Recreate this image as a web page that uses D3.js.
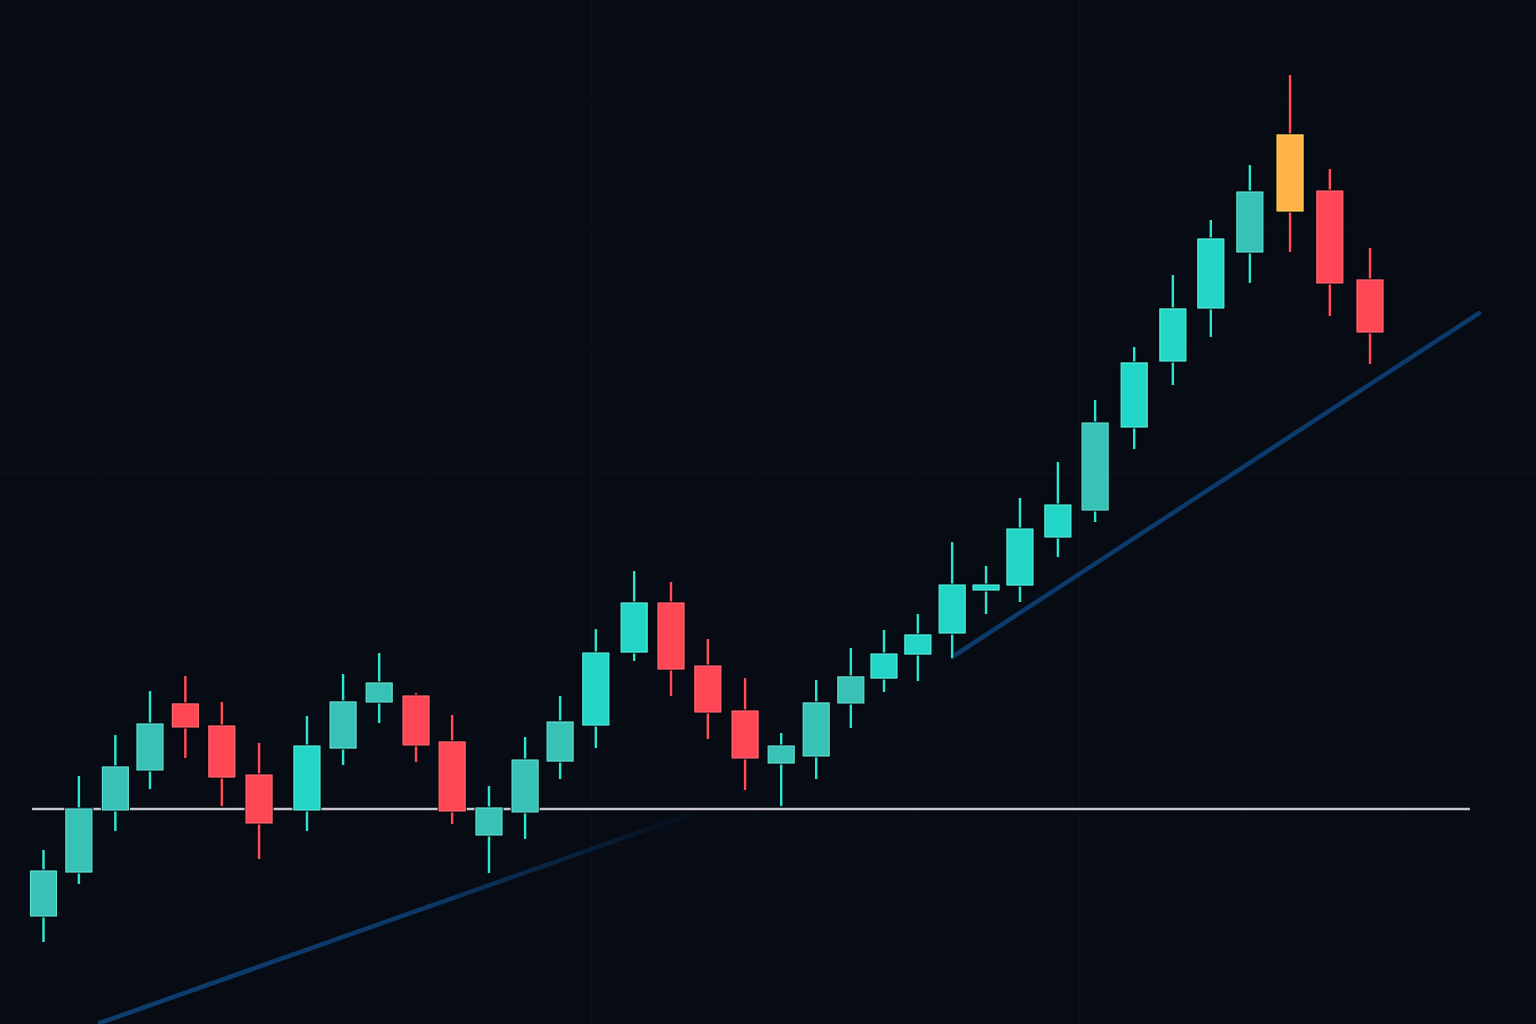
<!DOCTYPE HTML>
<html>

<head>
  <meta charset="utf-8">
  <title>candles</title>
  <script src="https://d3js.org/d3.v7.min.js"></script>
  <style>
    html, body { margin: 0; padding: 0; background: #060b14; overflow: hidden; }
    svg { display: block; }
  </style>
</head>

<body>
  <script>
    // session position of each candle (irregular spacing)
    const sessions = [0, 0.96, 1.95, 2.89, 3.85, 4.84, 5.85, 7.15, 8.13, 9.11,
      10.11, 11.09, 12.09, 13.07, 14.02, 14.99, 16.03, 17.03, 18.03, 19.04,
      20.02, 20.97, 21.91, 22.81, 23.73, 24.66, 25.58, 26.50, 27.53, 28.54,
      29.60, 30.65, 31.68, 32.74, 33.83, 34.91, 36];

    const open = [104.20, 107.75, 112.76, 115.99, 121.32, 119.54, 115.58, 112.76, 117.76, 121.48,
      121.96, 118.25, 110.74, 112.60, 116.71, 119.62, 125.51, 129.47, 124.38, 120.75,
      116.55, 117.12, 121.40, 123.41, 125.35, 127.05, 130.52, 130.92, 134.80, 136.98,
      143.68, 149.01, 153.29, 157.81, 161.12, 162.73, 155.55];
    const close = [107.83, 112.84, 116.23, 119.70, 119.46, 115.42, 111.71, 117.92, 121.48, 123.01,
      118.01, 112.68, 112.92, 116.79, 119.86, 125.43, 129.47, 124.14, 120.67, 116.96,
      117.92, 121.40, 123.50, 125.35, 126.89, 130.92, 130.92, 135.44, 137.38, 144.00,
      148.85, 153.21, 158.86, 162.65, 167.26, 155.31, 151.35];
    const high = [109.53, 115.50, 118.81, 122.36, 123.58, 121.48, 118.17, 120.35, 123.74, 125.43,
      122.20, 120.43, 114.69, 118.65, 121.96, 127.37, 132.05, 131.17, 126.56, 123.41,
      118.97, 123.25, 125.84, 127.29, 128.58, 134.39, 132.46, 137.95, 140.85, 145.86,
      150.14, 155.95, 160.39, 164.83, 172.10, 164.51, 158.13];
    const low = [102.10, 106.78, 111.06, 114.45, 116.96, 113.08, 108.80, 111.06, 116.39, 119.78,
      116.63, 111.63, 107.67, 110.42, 115.26, 117.76, 124.79, 121.96, 118.49, 114.37,
      113.08, 115.26, 119.38, 122.28, 123.17, 125.03, 128.58, 129.55, 133.18, 136.01,
      141.90, 147.07, 150.95, 155.31, 157.81, 152.64, 148.77];

    // candle drawn in the highlight colour (the top)
    const highlightIdx = [34];
    // rising candles drawn in the softer teal
    const mutedIdx = [0, 1, 2, 3, 8, 9, 12, 13, 14, 20, 21, 22, 29, 33];

    // horizontal support level
    const supportLevel = 112.84;
    const supportSpan = [-0.31, 38.71];

    // trend lines as [session, price] pairs
    const trendLow = [[1.53, 95.56], [17.63, 112.51]];
    const trendHigh = [[24.66, 125.11], [38.96, 152.88]];

    // grid ticks
    const priceTicks = [90, 100, 110, 120, 130, 140, 150, 160, 170, 180];
    const sessionTicks = [1.64, 6.06, 10.47, 14.88, 19.30, 23.71, 28.12, 32.53, 36.95];

    const W = 1536, H = 1024;

    const candles = sessions.map((s, i) => ({
      s: s, o: open[i], c: close[i], h: high[i], l: low[i],
      hi: highlightIdx.includes(i), muted: mutedIdx.includes(i)
    }));

    const x = d3.scaleLinear().domain([0, 36]).range([43.5, 1370]);
    const y = d3.scaleLinear().domain([100, 170]).range([968, 101]);

    const svg = d3.select('body').append('svg')
      .attr('width', W)
      .attr('height', H);

    svg.append('rect')
      .attr('width', W)
      .attr('height', H)
      .attr('fill', '#060b14');

    const defs = svg.append('defs');
    const fade = defs.append('linearGradient')
      .attr('id', 'fade')
      .attr('gradientUnits', 'userSpaceOnUse')
      .attr('x1', x(trendLow[0][0])).attr('y1', y(trendLow[0][1]))
      .attr('x2', x(trendLow[1][0])).attr('y2', y(trendLow[1][1]));
    fade.append('stop').attr('offset', '0%').attr('stop-color', '#0d3d70').attr('stop-opacity', 1);
    fade.append('stop').attr('offset', '55%').attr('stop-color', '#0d3d70').attr('stop-opacity', 0.9);
    fade.append('stop').attr('offset', '100%').attr('stop-color', '#0d3d70').attr('stop-opacity', 0.05);

    // grid
    const grid = svg.append('g').attr('class', 'grid');
    grid.selectAll('line.h')
      .data(priceTicks)
      .enter().append('line')
      .attr('class', 'h')
      .attr('x1', 0).attr('x2', W)
      .attr('y1', d => y(d)).attr('y2', d => y(d))
      .attr('stroke', '#0c141d')
      .attr('stroke-width', 1);
    grid.selectAll('line.v')
      .data(sessionTicks)
      .enter().append('line')
      .attr('class', 'v')
      .attr('y1', 0).attr('y2', H)
      .attr('x1', d => x(d)).attr('x2', d => x(d))
      .attr('stroke', '#0c141d')
      .attr('stroke-width', 1);

    const line = d3.line().x(d => x(d[0])).y(d => y(d[1]));

    // trend lines
    svg.append('path')
      .attr('d', line(trendLow))
      .attr('fill', 'none')
      .attr('stroke', 'url(#fade)')
      .attr('stroke-width', 4.5)
      .attr('stroke-linecap', 'round');

    svg.append('path')
      .attr('d', line(trendHigh))
      .attr('fill', 'none')
      .attr('stroke', '#0c3b6b')
      .attr('stroke-width', 4.5)
      .attr('stroke-linecap', 'round');

    // support line
    const support = [[supportSpan[0], supportLevel], [supportSpan[1], supportLevel]];
    svg.append('path')
      .attr('d', line(support))
      .attr('fill', 'none')
      .attr('stroke', '#020408')
      .attr('stroke-width', 5.5);
    svg.append('path')
      .attr('d', line(support))
      .attr('fill', 'none')
      .attr('stroke', '#c9c6d4')
      .attr('stroke-width', 2.4);

    const up = d => d.c >= d.o;
    const bodyFill = d => d.hi ? '#ffb347' : up(d) ? (d.muted ? '#38c1b5' : '#22d5c6') : '#ff4655';
    const bodyEdge = d => d.hi ? '#ffd45c' : up(d) ? (d.muted ? '#62e0d4' : '#55f2e2') : '#ff6a76';
    const wickCol = d => d.hi ? '#ff4d5a' : up(d) ? '#2fe3d3' : '#ff4d5a';
    const bw = 26;

    const g = svg.append('g').attr('class', 'candles')
      .selectAll('g')
      .data(candles)
      .enter().append('g');

    // dark outline behind wick and body
    g.append('line')
      .attr('x1', d => x(d.s)).attr('x2', d => x(d.s))
      .attr('y1', d => y(d.h)).attr('y2', d => y(d.l))
      .attr('stroke', '#020408')
      .attr('stroke-width', 4.5);

    g.append('line')
      .attr('x1', d => x(d.s)).attr('x2', d => x(d.s))
      .attr('y1', d => y(d.h)).attr('y2', d => y(d.l))
      .attr('stroke', wickCol)
      .attr('stroke-width', 2.5);

    g.append('rect')
      .attr('x', d => x(d.s) - bw / 2 - 1.5)
      .attr('y', d => y(Math.max(d.o, d.c)) - 1.5)
      .attr('width', bw + 3)
      .attr('height', d => Math.max(3, y(Math.min(d.o, d.c)) - y(Math.max(d.o, d.c))) + 3)
      .attr('fill', '#020408');

    g.append('rect')
      .attr('x', d => x(d.s) - bw / 2)
      .attr('y', d => y(Math.max(d.o, d.c)))
      .attr('width', bw)
      .attr('height', d => Math.max(4, y(Math.min(d.o, d.c)) - y(Math.max(d.o, d.c))))
      .attr('fill', bodyFill)
      .attr('stroke', bodyEdge)
      .attr('stroke-width', 1.2);
  </script>
</body>

</html>
